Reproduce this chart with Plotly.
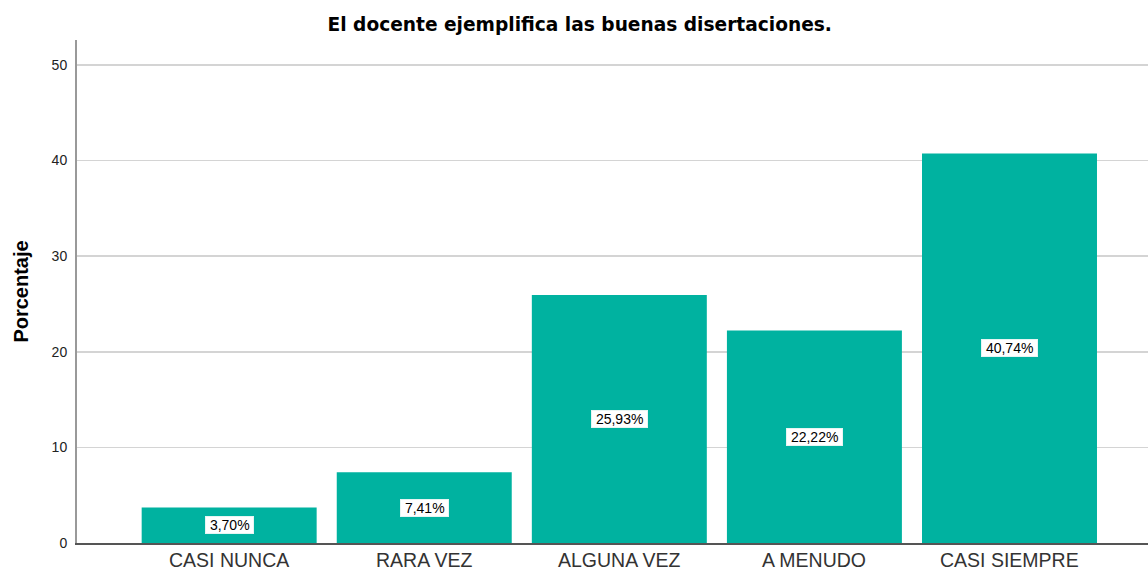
import plotly.graph_objects as go

categories = ["CASI NUNCA", "RARA VEZ", "ALGUNA VEZ", "A MENUDO", "CASI SIEMPRE"]
values = [3.70, 7.41, 25.93, 22.22, 40.74]
labels = ["3,70%", "7,41%", "25,93%", "22,22%", "40,74%"]
y_ticks = [0, 10, 20, 30, 40, 50]

BAR = "#00b2a0"
FONT = "Arial, Liberation Sans"

fig = go.Figure()
fig.add_trace(go.Bar(
    x=categories, y=values, marker=dict(color=BAR, line=dict(width=0)),
    width=0.897, hoverinfo="skip",
))

for c, v, t in zip(categories, values, labels):
    fig.add_annotation(
        x=c, y=v / 2, text="\u00a0" + t + "\u00a0", showarrow=False,
        font=dict(family=FONT, size=14, color="#000"),
        bgcolor="white", borderpad=0, borderwidth=1, bordercolor="#e6f5f3",
    )
    fig.add_annotation(
        x=c, y=0, yref="paper", yanchor="middle", yshift=-17, text=c, showarrow=False,
        font=dict(family=FONT, size=19.5, color="#333"),
    )

fig.update_layout(
    width=1148, height=572,
    margin=dict(l=77, r=0, t=40, b=29),
    plot_bgcolor="white", paper_bgcolor="white",
    showlegend=False,
    title=dict(
        text="<b>El docente ejemplifica las buenas disertaciones.</b>",
        x=0.505, xanchor="center", y=0.958, yanchor="middle",
        font=dict(family="DejaVu Sans", size=18.6, color="#000"),
    ),
    xaxis=dict(
        range=[-0.78, 4.71], showgrid=False,
        showline=True, linecolor="#555", linewidth=1.5,
        ticks="", showticklabels=False,
        fixedrange=True,
    ),
    yaxis=dict(
        range=[0, 52.6], tickvals=y_ticks, showgrid=True, gridcolor="#d4d4d4", gridwidth=1.5,
        showline=True, linecolor="#999", linewidth=2, zeroline=False,
        ticks="", ticklen=0, ticklabelstandoff=5,
        tickfont=dict(family=FONT, size=14, color="#222"),
        title=dict(text="<b>Porcentaje</b>", font=dict(family=FONT, size=20, color="#000"), standoff=18),
        fixedrange=True,
    ),
)

fig.write_html(
    "out.html",
    config={"displayModeBar": False, "staticPlot": True},
    post_script="document.body.style.margin='0';document.body.style.overflow='hidden';",
)
